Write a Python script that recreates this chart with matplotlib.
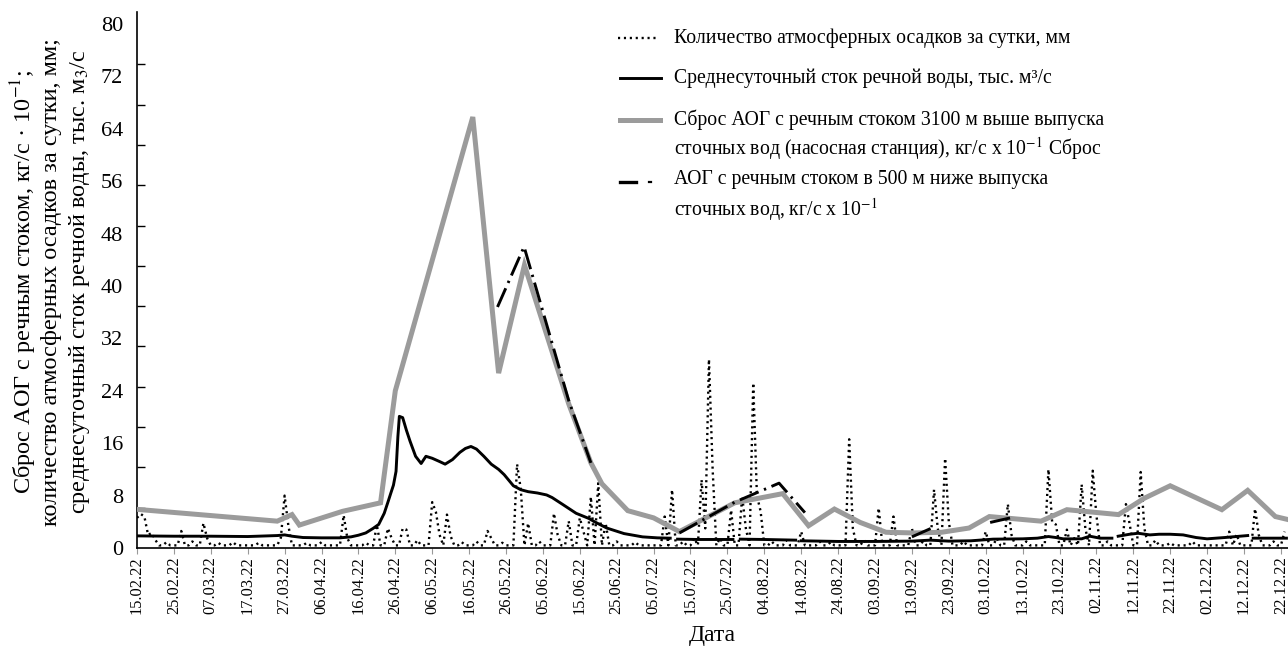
import matplotlib
matplotlib.use('Agg')
import matplotlib.pyplot as plt
import numpy as np
from matplotlib.lines import Line2D

plt.rcParams['font.family'] = ['Liberation Serif', 'DejaVu Serif']
plt.rcParams['mathtext.fontset'] = 'stix'

nan = np.nan

# ---- data (x = days since 15.02.22) ----
date_labels = ['15.02.22', '25.02.22', '07.03.22', '17.03.22', '27.03.22', '06.04.22',
               '16.04.22', '26.04.22', '06.05.22', '16.05.22', '26.05.22', '05.06.22',
               '15.06.22', '25.06.22', '05.07.22', '15.07.22', '25.07.22', '04.08.22',
               '14.08.22', '24.08.22', '03.09.22', '13.09.22', '23.09.22', '03.10.22',
               '13.10.22', '23.10.22', '02.11.22', '12.11.22', '22.11.22', '02.12.22',
               '12.12.22', '22.12.22']
date_ticks = list(range(0, 320, 10))[:len(date_labels)]

# AOG discharge 3100 m upstream (grey)
up_days = [0, 38, 42, 44, 55.7, 66, 70, 91, 98, 105, 117, 123, 126, 133, 140, 147,
           162, 175, 182, 189, 196, 203, 210.5, 218, 225.5, 231, 245, 252, 266, 273,
           280, 294, 301, 308.5, 311.5]
up_vals = [5.9, 4.1, 5.1, 3.5, 5.6, 6.9, 24.0, 65.8, 26.7, 43.2, 22.0, 13.0, 9.8, 5.7,
           4.6, 2.5, 6.9, 8.3, 3.4, 5.95, 3.9, 2.4, 2.3, 2.4, 3.05, 4.8, 4.1, 5.85, 5.1,
           7.6, 9.5, 5.85, 8.8, 4.8, 4.4]

# AOG discharge 500 m downstream (dash-dot), NaN = break
down_days = [97.7, 104.9, 117, 123, nan, 147, 162, 174, 181, nan, 210, 215.4, nan, 231.2, 236.7]
down_vals = [36.8, 46.0, 22.5, 13.0, nan, 2.3, 7.0, 9.9, 5.4, nan, 1.7, 3.05, nan, 3.9, 4.6]

# mean daily river discharge (black solid)
river_days = [0, 10, 20, 30, 38, 40, 42, 45, 50, 55, 58, 60, 62, 64, 65.5, 67, 68, 68.8,
              69.5, 70.2, 70.7, 71.1, 72, 73, 74, 75.5, 77, 78.3, 80, 82, 83.5, 85.5,
              87.5, 89, 90.5, 92, 94, 96, 98, 99.5, 102, 104, 106, 108.5, 111, 112.5,
              115.5, 119, 122.5, 124, 127.3, 132, 137, 141, 144.5, nan, 146.5, 152,
              161.5, nan, 163.5, 170, 178.5, nan, 180, 190, 200, 210, 215, 220, 226,
              232, 240, 244, 247, 249, 251, 256, 258.2, 261, 264.2, nan, 265.9, 269,
              271.3, 274.5, 277, 280, 283.5, 287, 290, 294.8, 298.9, 301, nan, 302.5,
              306, 311.5]
river_vals = [1.85, 1.8, 1.8, 1.75, 1.9, 2.0, 1.8, 1.6, 1.55, 1.55, 1.7, 1.95, 2.3, 3.0,
              3.6, 5.3, 7.0, 8.4, 9.6, 11.7, 17.0, 20.1, 19.9, 18.0, 16.3, 14.0, 12.9,
              14.0, 13.7, 13.2, 12.8, 13.5, 14.6, 15.2, 15.5, 15.1, 14.0, 12.8, 12.0,
              11.2, 9.5, 8.9, 8.6, 8.4, 8.1, 7.7, 6.6, 5.3, 4.5, 4.0, 3.05, 2.2, 1.7,
              1.55, 1.5, nan, 1.35, 1.3, 1.3, nan, 1.35, 1.3, 1.2, nan, 1.1, 1.0, 1.0,
              1.05, 1.2, 1.05, 1.1, 1.35, 1.4, 1.5, 1.75, 1.6, 1.4, 1.4, 1.8, 1.5, 1.5,
              nan, 1.8, 2.1, 2.25, 2.0, 2.1, 2.1, 2.0, 1.6, 1.4, 1.6, 1.8, 1.9, nan,
              1.5, 1.5, 1.5]

# daily precipitation, mm (rainy days; other days at the dry-day level)
rain_days = [0, 1, 2, 3, 4, 5, 8, 12, 15, 18, 19, 22, 26, 33, 39, 40, 41, 46, 50, 56, 57,
             62, 65, 68, 69, 72, 73, 76, 80, 81, 82, 84, 85, 88, 92, 95, 96, 99, 103, 104,
             106, 109, 113, 114, 117, 120, 121, 123, 125, 127, 130, 135, 143, 145, 148,
             151, 153, 154, 155, 156, 158, 161, 164, 165, 167, 168, 169, 172, 176, 180,
             185, 188, 193, 194, 197, 201, 205, 210, 213, 216, 217, 219, 220, 224, 230,
             233, 236, 237, 241, 247, 248, 249, 252, 254, 256, 257, 259, 260, 263, 268,
             269, 272, 273, 276, 280, 286, 296, 298, 303, 304, 308, 311]
rain_vals = [4.6, 5.2, 4.8, 2.0, 2.3, 1.2, 0.9, 2.6, 1.0, 3.8, 1.5, 0.8, 0.9, 0.8, 1.6,
             8.0, 3.5, 0.8, 0.9, 5.0, 1.5, 0.8, 3.5, 3.0, 1.5, 3.0, 2.8, 1.2, 7.0, 5.5,
             2.0, 5.1, 1.8, 0.9, 1.0, 2.6, 1.5, 0.8, 12.8, 9.0, 3.8, 1.0, 5.3, 2.0, 4.1,
             4.6, 2.5, 7.8, 9.9, 3.8, 1.0, 0.9, 4.8, 8.9, 1.0, 1.5, 10.4, 3.0, 28.8,
             12.0, 1.5, 5.8, 7.9, 3.0, 25.2, 8.0, 5.6, 1.0, 1.2, 2.5, 1.0, 0.9, 16.6,
             3.0, 1.2, 6.1, 4.8, 3.0, 1.0, 8.9, 3.0, 13.7, 4.0, 1.0, 2.5, 1.5, 6.7, 2.0,
             1.0, 12.0, 4.0, 3.6, 2.8, 1.5, 9.7, 3.0, 11.8, 5.0, 1.0, 6.7, 3.7, 11.6,
             3.0, 1.2, 0.8, 1.0, 2.5, 2.1, 6.0, 2.0, 1.0, 2.5]
dry_level = 0.4
n_days = 312

y_ticks = [0, 8, 16, 24, 32, 40, 48, 56, 64, 72, 80]

# ---- styles ----
GREY = '#9b9b9b'
dot_style = dict(color='black', lw=1.7, linestyle=(0, (0.9, 1.6)))
river_style = dict(color='black', lw=2.1)
up_style = dict(color=GREY, lw=3.6)
down_style = dict(color='black', lw=2.1, linestyle=(0, (7, 2, 0.8, 2)))

# ---- figure ----
W, H = 1288, 659
fig = plt.figure(figsize=(W / 100, H / 100), dpi=100)
ax = fig.add_axes([137 / W, (H - 548) / H, (W - 137) / W, (548 - 12) / H])

precip = np.full(n_days, dry_level)
precip[np.array(rain_days)] = rain_vals
ax.plot(np.arange(n_days), precip, zorder=2, **dot_style)
ax.plot(up_days, up_vals, solid_joinstyle='miter', zorder=3, **up_style)
ax.plot(river_days, river_vals, zorder=4, **river_style)
ax.plot(down_days, down_vals, zorder=5, **down_style)

ax.set_xlim(0, (W - 137) / 3.69)
ax.set_ylim(0, 536 / 6.55)

ax.set_xticks(date_ticks)
ax.set_xticklabels(date_labels, rotation=90, fontsize=11.8)
ax.tick_params(axis='x', direction='out', length=4, width=0.8, color='#999999', pad=2)

ax.set_yticks(y_ticks)
ax.set_yticklabels([str(v) for v in y_ticks], fontsize=16)
ax.set_yticks([80 / 13 * k for k in range(1, 14)], minor=True)
ax.tick_params(axis='y', which='major', length=0, pad=10)
ax.tick_params(axis='y', which='minor', direction='in', length=5.5, width=1.0, color='black')

for s in ['top', 'right']:
    ax.spines[s].set_visible(False)
for s in ['left', 'bottom']:
    ax.spines[s].set_linewidth(1.2)
    ax.spines[s].set_color('black')


def fx(px):
    return px / W


def fy(py):
    return 1 - py / H


# y label (three lines)
ylab = ['Сброс АОГ с речным стоком, кг/с · 10$^{−1}$;',
        'количество атмосферных осадков за сутки, мм;',
        'среднесуточный сток речной воды, тыс. м$_3$/с']
for xp, t in zip([24, 52, 80], ylab):
    fig.text(fx(xp), fy(282), t, rotation=90, ha='center', va='center', fontsize=17.5)

fig.text(fx(712), fy(636), 'Дата', ha='center', va='center', fontsize=17)

# legend (drawn as keys + text in figure coordinates)
fig.add_artist(Line2D([fx(618), fx(658)], [fy(38), fy(38)], transform=fig.transFigure, **dot_style))
fig.add_artist(Line2D([fx(620), fx(661)], [fy(78), fy(78)], transform=fig.transFigure, **river_style))
fig.add_artist(Line2D([fx(620), fx(660)], [fy(120), fy(120)], transform=fig.transFigure, **up_style))
fig.add_artist(Line2D([fx(620), fx(636)], [fy(182), fy(182)], transform=fig.transFigure,
                      color='black', lw=2.4))
fig.add_artist(Line2D([fx(649), fx(651)], [fy(182), fy(182)], transform=fig.transFigure,
                      color='black', lw=1.6))

leg_lines = [(38, 'Количество атмосферных осадков за сутки, мм'),
             (78, 'Среднесуточный сток речной воды, тыс. м³/с'),
             (120, 'Сброс АОГ с речным стоком 3100 м выше выпуска'),
             (149, 'сточных вод (насосная станция), кг/с x 10$^{−1}$ Сброс'),
             (180, 'АОГ с речным стоком в 500 м ниже выпуска'),
             (210, 'сточных вод, кг/с x 10$^{−1}$')]
for yy, t in leg_lines:
    fig.text(fx(674), fy(yy), t, ha='left', va='center', fontsize=14.2)

fig.savefig('out.png', dpi=100)
